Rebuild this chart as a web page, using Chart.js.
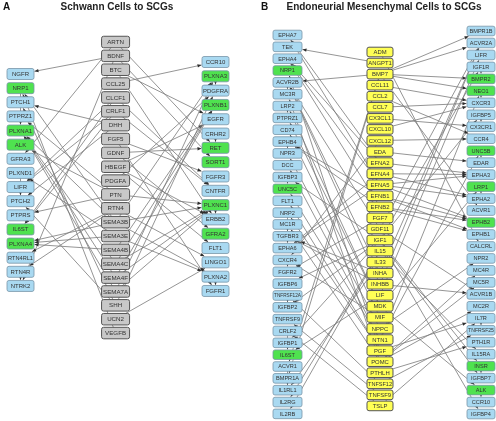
<!DOCTYPE html>
<html>
<head>
<meta charset="utf-8">
<script src="https://cdn.jsdelivr.net/npm/chart.js@4.4.1/dist/chart.umd.min.js"></script>
<style>
  html, body { margin: 0; padding: 0; background: #fff; }
  canvas { display: block; }
</style>
</head>
<body>
<canvas id="net" width="496" height="421"></canvas>
<script>
// ---- panel A: Schwann cells -> SCGs ----
const aLeft = ["NGFR", "NRP1", "PTCH1", "PTPRZ1", "PLXNA1", "ALK", "GFRA3", "PLXND1", "LIFR", "PTCH2", "PTPRS", "IL6ST", "PLXNA4", "RTN4RL1", "RTN4R", "NTRK2"];
const aMid = ["ARTN", "BDNF", "BTC", "CCL25", "CLCF1", "CRLF1", "DHH", "FGF5", "GDNF", "HBEGF", "PDGFA", "PTN", "RTN4", "SEMA3B", "SEMA3E", "SEMA4B", "SEMA4C", "SEMA4F", "SEMA7A", "SHH", "UCN2", "VEGFB"];
const aRight = ["CCR10", "PLXNA3", "PDGFRA", "PLXNB1", "EGFR", "CRHR2", "RET", "SORT1", "FGFR3", "CNTFR", "PLXNC1", "ERBB2", "GFRA2", "FLT1", "LINGO1", "PLXNA2", "FGFR1"];
const aGreen = ["NRP1", "PLXNA1", "ALK", "IL6ST", "PLXNA4", "PLXNA3", "PLXNB1", "RET", "SORT1", "PLXNC1", "GFRA2"];

const aLeftEdges = [
  ["BDNF", "NGFR"], ["BDNF", "NTRK2"], ["ARTN", "GFRA3"], ["CLCF1", "LIFR"], ["CLCF1", "IL6ST"],
  ["CRLF1", "LIFR"], ["CRLF1", "IL6ST"], ["DHH", "PTCH1"], ["DHH", "PTCH2"], ["SHH", "PTCH1"], ["SHH", "PTCH2"],
  ["PTN", "PTPRZ1"], ["PTN", "ALK"], ["PTN", "PTPRS"], ["RTN4", "RTN4R"], ["RTN4", "RTN4RL1"],
  ["SEMA3B", "NRP1"], ["SEMA3B", "PLXNA1"], ["SEMA3B", "PLXNA4"], ["SEMA3E", "PLXND1"], ["SEMA3E", "PLXNA4"],
  ["SEMA4F", "PLXNA1"], ["SEMA7A", "PLXNA1"], ["SEMA4C", "PLXNA1"], ["VEGFB", "NRP1"], ["SEMA4B", "PLXNA4"]
];
const aRightEdges = [
  ["CCL25", "CCR10"], ["BTC", "EGFR"], ["HBEGF", "EGFR"], ["BTC", "ERBB2"], ["HBEGF", "ERBB2"],
  ["BDNF", "SORT1"], ["ARTN", "RET"], ["GDNF", "RET"], ["GDNF", "GFRA2"], ["PDGFA", "PDGFRA"],
  ["FGF5", "FGFR3"], ["FGF5", "FGFR1"], ["CLCF1", "CNTFR"], ["CRLF1", "CNTFR"], ["UCN2", "LINGO1"],
  ["SEMA3B", "PLXNA3"], ["SEMA3B", "PLXNA2"], ["SEMA3E", "PLXNA2"], ["SEMA4B", "PLXNB1"], ["SEMA4C", "PLXNB1"],
  ["SEMA4F", "PLXNB1"], ["SEMA7A", "PLXNC1"], ["SEMA3B", "PLXNC1"], ["SEMA4C", "PLXNC1"], ["SEMA4F", "PLXNC1"],
  ["RTN4", "LINGO1"], ["HBEGF", "FLT1"], ["PTN", "PLXNC1"], ["SEMA7A", "PLXNA3"], ["SHH", "PDGFRA"]
];
const aLeftLinks = [["NRP1", "PLXNA1"], ["PLXND1", "PTCH2"], ["RTN4R", "NTRK2"]];
const aRightLinks = [["PLXNA3", "PDGFRA"], ["CRHR2", "RET"], ["PLXNC1", "ERBB2"], ["PLXNA2", "FGFR1"]];

// ---- panel B: endoneurial mesenchymal cells -> SCGs ----
const bLeft = ["EPHA7", "TEK", "EPHA4", "NRP1", "ACVR2B", "MC3R", "LRP2", "PTPRZ1", "CD74", "EPHB4", "NPR3", "DCC", "IGFBP3", "UNC5C", "FLT1", "NRP2", "MC1R", "TGFBR3", "EPHA6", "CXCR4", "FGFR2", "IGFBP6", "TNFRSF12A", "IGFBP2", "TNFRSF9", "CRLF2", "IGFBP1", "IL6ST", "ACVR1", "BMPR1A", "IL1RL1", "IL2RG", "IL2RB"];
const bMid = ["ADM", "ANGPT1", "BMP7", "CCL11", "CCL2", "CCL7", "CX3CL1", "CXCL10", "CXCL12", "EDA", "EFNA2", "EFNA4", "EFNA5", "EFNB1", "EFNB2", "FGF7", "GDF11", "IGF1", "IL15", "IL33", "INHA", "INHBB", "LIF", "MDK", "MIF", "NPPC", "NTN1", "PGF", "POMC", "PTHLH", "TNFSF12", "TNFSF9", "TSLP"];
const bRight = ["BMPR1B", "ACVR2A", "LIFR", "IGF1R", "BMPR2", "NEO1", "CXCR3", "IGFBP5", "CX3CR1", "CCR4", "UNC5B", "EDAR", "EPHA3", "LRP1", "EPHA2", "ACVR1", "EPHB2", "EPHB1", "CALCRL", "NPR2", "MC4R", "MC5R", "ACVR1B", "MC2R", "IL7R", "TNFRSF25", "PTH1R", "IL15RA", "INSR", "IGFBP7", "ALK", "CCR10", "IGFBP4"];
const bGreen = ["NRP1", "UNC5C", "IL6ST", "BMPR2", "NEO1", "UNC5B", "LRP1", "EPHB2", "INSR", "ALK"];

const bLeftEdges = [
  ["ANGPT1", "TEK"], ["BMP7", "ACVR2B"], ["BMP7", "BMPR1A"], ["BMP7", "ACVR1"], ["GDF11", "ACVR2B"],
  ["INHA", "ACVR2B"], ["INHBB", "ACVR2B"], ["INHA", "TGFBR3"], ["INHBB", "TGFBR3"],
  ["EFNA2", "EPHA7"], ["EFNA5", "EPHA7"], ["EFNA2", "EPHA4"], ["EFNA5", "EPHA4"], ["EFNB2", "EPHA4"],
  ["EFNB1", "EPHB4"], ["EFNB2", "EPHB4"], ["EFNA4", "EPHA6"], ["EFNA5", "EPHA6"],
  ["POMC", "MC3R"], ["POMC", "MC1R"], ["MDK", "LRP2"], ["MDK", "PTPRZ1"], ["MIF", "CD74"], ["MIF", "CXCR4"],
  ["CXCL12", "CXCR4"], ["NPPC", "NPR3"], ["NTN1", "DCC"], ["NTN1", "UNC5C"],
  ["IGF1", "IGFBP3"], ["IGF1", "IGFBP6"], ["IGF1", "IGFBP2"], ["IGF1", "IGFBP1"],
  ["PGF", "FLT1"], ["PGF", "NRP1"], ["PGF", "NRP2"], ["FGF7", "FGFR2"], ["TNFSF12", "TNFRSF12A"],
  ["TNFSF9", "TNFRSF9"], ["TSLP", "CRLF2"], ["LIF", "IL6ST"], ["IL33", "IL1RL1"], ["IL15", "IL2RG"], ["IL15", "IL2RB"]
];
const bRightEdges = [
  ["BMP7", "BMPR1B"], ["BMP7", "ACVR2A"], ["BMP7", "BMPR2"], ["BMP7", "NEO1"], ["GDF11", "ACVR2A"],
  ["INHBB", "ACVR2A"], ["INHA", "ACVR2A"], ["GDF11", "ACVR1B"], ["INHBB", "ACVR1B"], ["BMP7", "ACVR1"],
  ["LIF", "LIFR"], ["IGF1", "IGF1R"], ["NTN1", "NEO1"], ["CCL11", "CXCR3"], ["CCL7", "CXCR3"], ["CXCL10", "CXCR3"],
  ["IGF1", "IGFBP5"], ["CX3CL1", "CX3CR1"], ["CXCL12", "CCR4"], ["CCL2", "CCR4"], ["NTN1", "UNC5B"], ["EDA", "EDAR"],
  ["EFNA2", "EPHA3"], ["EFNA4", "EPHA3"], ["EFNA5", "EPHA3"], ["MDK", "LRP1"], ["EFNA4", "EPHA2"], ["EFNA5", "EPHA2"],
  ["EFNB1", "EPHB2"], ["EFNB2", "EPHB2"], ["EFNA5", "EPHB2"], ["EFNB1", "EPHB1"], ["EFNB2", "EPHB1"],
  ["ADM", "CALCRL"], ["NPPC", "NPR2"], ["POMC", "MC4R"], ["POMC", "MC5R"], ["POMC", "MC2R"], ["TSLP", "IL7R"],
  ["TNFSF12", "TNFRSF25"], ["PTHLH", "PTH1R"], ["IL15", "IL15RA"], ["IGF1", "INSR"], ["IGF1", "IGFBP7"],
  ["MDK", "ALK"], ["IGF1", "IGFBP4"], ["PGF", "IL7R"]
];
const bLeftLinks = [["ACVR2B", "MC3R"], ["LRP2", "PTPRZ1"], ["EPHB4", "NPR3"], ["IGFBP3", "UNC5C"], ["NRP2", "TGFBR3"],
  ["TGFBR3", "EPHA6"], ["CXCR4", "FGFR2"], ["TNFRSF12A", "IGFBP2"], ["CRLF2", "IL6ST"], ["ACVR1", "IL1RL1"]];
const bRightLinks = [["IGF1R", "BMPR2"], ["NEO1", "CXCR3"], ["IGFBP5", "CX3CR1"], ["UNC5B", "EDAR"], ["LRP1", "EPHA2"],
  ["INSR", "IGFBP7"], ["ALK", "CCR10"], ["IL7R", "TNFRSF25"]];

// ---- layout (pixels) ----
const W = 496, H = 421;
const panelX = { xA: [20.5, 215.5], xB: [287.5, 481] }; // pixel of slot 0 and slot 2
const columns = [
  { key: "aLeft", names: aLeft, green: aGreen, x: "xA", slot: 0, top: 74, step: 14.13, w: 27, h: 11, base: "#a9d9f1", font: 6 },
  { key: "aMid", names: aMid, green: [], x: "xA", slot: 0.975, top: 42, step: 13.86, w: 28, h: 11.5, base: "#c8c8c8", font: 6.2 },
  { key: "aRight", names: aRight, green: aGreen, x: "xA", slot: 2, top: 62, step: 14.31, w: 27, h: 11, base: "#a9d9f1", font: 6 },
  { key: "bLeft", names: bLeft, green: bGreen, x: "xB", slot: 0, top: 35, step: 11.84, w: 29, h: 9.6, base: "#a9d9f1", font: 5.6 },
  { key: "bMid", names: bMid, green: [], x: "xB", slot: 0.956, top: 52, step: 11.06, w: 26, h: 9.6, base: "#ffff55", font: 5.9 },
  { key: "bRight", names: bRight, green: bGreen, x: "xB", slot: 2, top: 31, step: 11.97, w: 28, h: 9.6, base: "#a9d9f1", font: 5.6 }
];
const edgeSets = [
  ["aMid", "aLeft", aLeftEdges], ["aMid", "aRight", aRightEdges],
  ["aLeft", "aLeft", aLeftLinks], ["aRight", "aRight", aRightLinks],
  ["bMid", "bLeft", bLeftEdges], ["bMid", "bRight", bRightEdges],
  ["bLeft", "bLeft", bLeftLinks], ["bRight", "bRight", bRightLinks]
];

const scales = {};
for (const id in panelX) {
  const [p0, p2] = panelX[id];
  const unit = (p2 - p0) / 2;
  scales[id] = { type: "linear", display: false, min: -p0 / unit, max: (W - p0) / unit };
}
columns.forEach((c, i) => {
  scales["y" + i] = { type: "linear", display: false, reverse: true, min: -c.top / c.step, max: (H - c.top) / c.step };
});

const datasets = columns.map((c, i) => ({
  label: c.key,
  data: c.names.map((n, j) => ({ x: c.slot, y: j })),
  xAxisID: c.x,
  yAxisID: "y" + i,
  pointRadius: 0,
  pointHoverRadius: 0,
  pointHitRadius: 0
}));

function roundRect(ctx, x, y, w, h, r) {
  ctx.beginPath();
  ctx.moveTo(x + r, y);
  ctx.arcTo(x + w, y, x + w, y + h, r);
  ctx.arcTo(x + w, y + h, x, y + h, r);
  ctx.arcTo(x, y + h, x, y, r);
  ctx.arcTo(x, y, x + w, y, r);
  ctx.closePath();
}

function nodeAt(chart, key, name) {
  const ci = columns.findIndex((c) => c.key === key);
  const j = columns[ci].names.indexOf(name);
  if (j < 0) return null;
  const el = chart.getDatasetMeta(ci).data[j];
  return { x: el.x, y: el.y, w: columns[ci].w, h: columns[ci].h };
}

const netPlugin = {
  id: "net",
  beforeDatasetsDraw(chart) {
    const ctx = chart.ctx;
    ctx.save();
    edgeSets.forEach(([fromKey, toKey, list]) => {
      list.forEach(([a, b]) => {
        const s = nodeAt(chart, fromKey, a);
        const t = nodeAt(chart, toKey, b);
        if (!s || !t) return;
        const dx = s.x - t.x, dy = s.y - t.y;
        const k = Math.min(dx ? (t.w / 2 + 0.5) / Math.abs(dx) : Infinity, dy ? (t.h / 2 + 0.5) / Math.abs(dy) : Infinity);
        const ex = t.x + dx * k, ey = t.y + dy * k;
        ctx.strokeStyle = "#7a7a7a";
        ctx.lineWidth = 0.8;
        ctx.beginPath();
        ctx.moveTo(s.x, s.y);
        ctx.lineTo(ex, ey);
        ctx.stroke();
        // arrow head at the receptor
        const len = Math.hypot(dx, dy) || 1;
        const ux = dx / len, uy = dy / len;
        const al = 4, aw = 1.7;
        ctx.fillStyle = "#2e2e2e";
        ctx.beginPath();
        ctx.moveTo(ex, ey);
        ctx.lineTo(ex + ux * al - uy * aw, ey + uy * al + ux * aw);
        ctx.lineTo(ex + ux * al + uy * aw, ey + uy * al - ux * aw);
        ctx.closePath();
        ctx.fill();
      });
    });
    ctx.restore();
  },
  afterDatasetsDraw(chart) {
    const ctx = chart.ctx;
    ctx.save();
    columns.forEach((c, ci) => {
      const meta = chart.getDatasetMeta(ci);
      c.names.forEach((name, j) => {
        const el = meta.data[j];
        const isGreen = c.green.includes(name) && c.base === "#a9d9f1";
        const mid = c.key.endsWith("Mid");
        roundRect(ctx, el.x - c.w / 2, el.y - c.h / 2, c.w, c.h, 2);
        ctx.fillStyle = isGreen ? "#4fe24f" : c.base;
        ctx.fill();
        ctx.strokeStyle = mid ? "#555" : "#7896a8";
        ctx.lineWidth = mid ? 1 : 0.8;
        ctx.stroke();
        let size = c.font;
        ctx.font = size + 'px "Liberation Sans", Arial, sans-serif';
        const tw = ctx.measureText(name).width;
        if (tw > c.w - 2) {
          size = size * (c.w - 2) / tw;
          ctx.font = size + 'px "Liberation Sans", Arial, sans-serif';
        }
        ctx.fillStyle = "#333";
        ctx.textAlign = "center";
        ctx.textBaseline = "middle";
        ctx.fillText(name, el.x, el.y + 0.4);
      });
    });
    // panel letters and titles
    ctx.fillStyle = "#111";
    ctx.textBaseline = "middle";
    ctx.font = 'bold 10px "Liberation Sans", Arial, sans-serif';
    ctx.textAlign = "left";
    ctx.fillText("A", 3, 7);
    ctx.fillText("B", 261, 7);
    ctx.fillStyle = "#222";
    ctx.textAlign = "center";
    ctx.fillText("Schwann Cells to SCGs", 117, 7.5);
    ctx.fillText("Endoneurial Mesenchymal Cells to SCGs", 384, 7.5);
    ctx.restore();
  }
};

new Chart(document.getElementById("net"), {
  type: "scatter",
  data: { datasets: datasets },
  options: {
    responsive: false,
    animation: false,
    layout: { padding: 0 },
    scales: scales,
    plugins: {
      legend: { display: false },
      title: { display: false },
      tooltip: { enabled: false }
    },
    events: []
  },
  plugins: [netPlugin]
});
</script>
</body>
</html>
